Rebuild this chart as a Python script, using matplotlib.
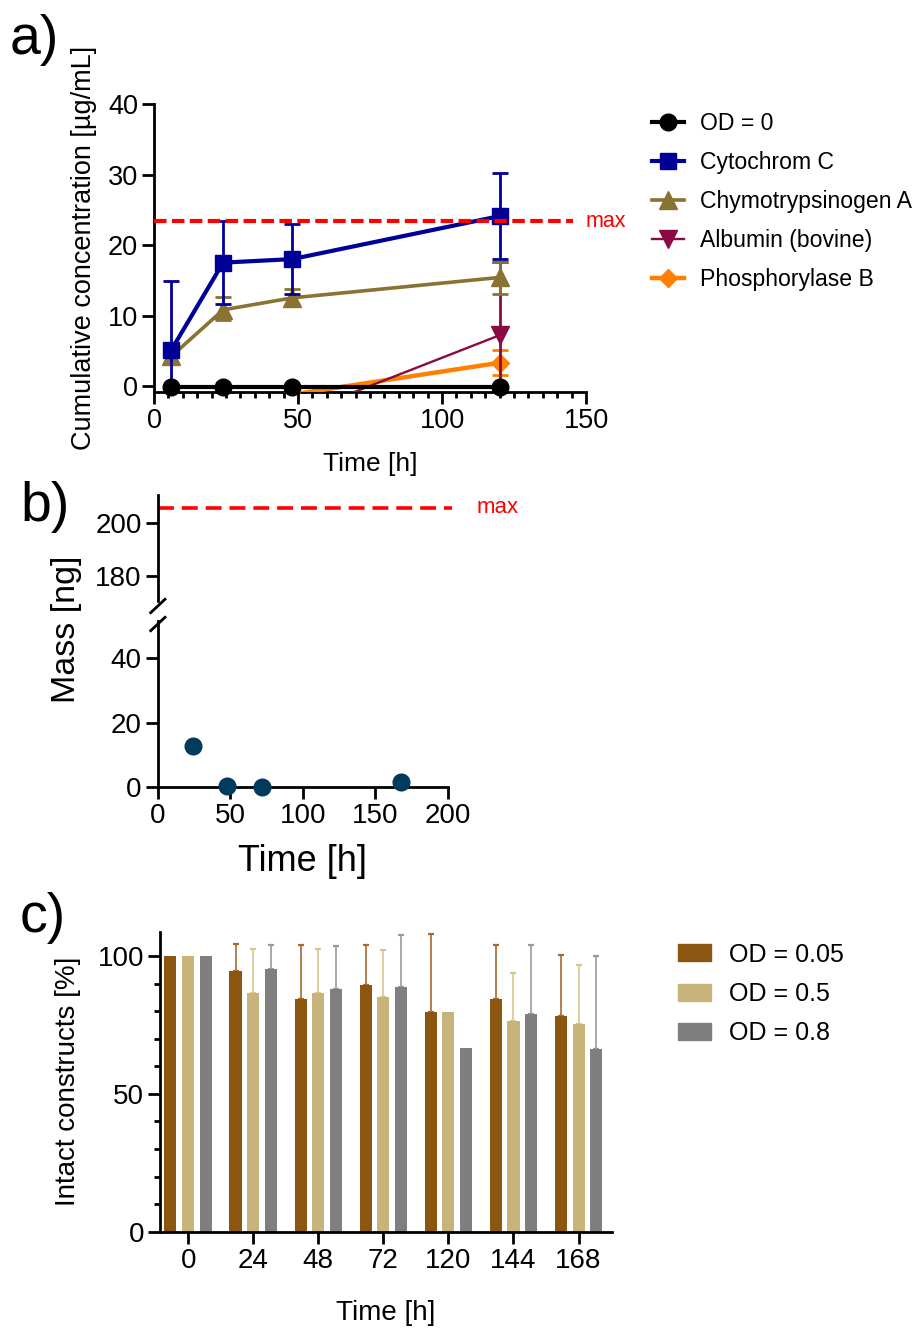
import numpy as np
import matplotlib
matplotlib.use("Agg")
import matplotlib.pyplot as plt
from matplotlib.ticker import MultipleLocator
from matplotlib.patches import Patch

plt.rcParams['font.family'] = ['Liberation Sans', 'DejaVu Sans']

# ---- panel a data ----
time_a = [6, 24, 48, 120]
od0 = [-0.2, -0.2, -0.2, -0.2]
cyto = [5.1, 17.5, 18.0, 24.1]
cyto_lo = [5.0, 5.9, 5.0, 6.1]
cyto_hi = [9.8, 5.9, 5.0, 6.1]
chymo = [4.2, 10.8, 12.5, 15.4]
chymo_lo = [0.0, 1.4, 1.2, 2.4]
chymo_hi = [0.0, 1.8, 1.3, 2.2]
albumin = [-4.6, -4.5, -4.3, 7.2]
albumin_err = [0.0, 0.0, 0.0, 10.4]
phospho = [-1.6, -1.5, -1.2, 3.3]
phospho_err = [0.0, 0.0, 0.0, 1.8]
max_a = 23.4

# ---- panel b data ----
time_b = [24, 48, 72, 168]
mass_b = [12.7, 0.3, 0.0, 1.4]
max_b = 205.7

# ---- panel c data ----
time_c = ['0', '24', '48', '72', '120', '144', '168']
od005 = [100, 94.6, 84.5, 89.5, 79.5, 84.5, 78.3]
od005_err = [0, 9.9, 19.4, 14.4, 28.3, 19.4, 22.1]
od05 = [100, 86.4, 86.4, 85.2, 79.5, 76.5, 75.4]
od05_err = [0, 16.1, 16.1, 17.0, 0, 17.5, 21.3]
od08 = [100, 95.4, 88.1, 88.6, 66.6, 78.9, 66.4]
od08_err = [0, 8.5, 15.5, 19.0, 0, 25.0, 33.5]

W, H = 921, 1330
fig = plt.figure(figsize=(W / 100, H / 100), dpi=100)


def box(l, t, r, b):
    return [l / W, 1 - b / H, (r - l) / W, (b - t) / H]


def style(ax, lw=2.0):
    for s in ['top', 'right']:
        ax.spines[s].set_visible(False)
    for s in ['left', 'bottom']:
        ax.spines[s].set_linewidth(lw)
    ax.tick_params(which='major', length=8.5, width=lw, labelsize=19.5, pad=3)
    ax.tick_params(which='minor', length=4.5, width=lw)


# ================= a) =================
ax = fig.add_axes(box(154, 104, 586, 392))
style(ax)
ax.set_xlim(0, 150)
ax.set_ylim(-0.85, 40)
ax.xaxis.set_major_locator(MultipleLocator(50))
ax.xaxis.set_minor_locator(MultipleLocator(5))
ax.yaxis.set_major_locator(MultipleLocator(10))

series = [
    ('OD = 0', od0, None, None, 'black', 'o', 12, 3.0, 10, False),
    ('Cytochrom C', cyto, cyto_lo, cyto_hi, '#000099', 's', 12, 3.0, 9, False),
    ('Chymotrypsinogen A', chymo, chymo_lo, chymo_hi, '#8a7232', '^', 12.5, 2.6, 8, False),
    ('Albumin (bovine)', albumin, albumin_err, albumin_err, '#8b0a42', 'v', 12.5, 1.7, 7, True),
    ('Phosphorylase B', phospho, phospho_err, phospho_err, '#ff8000', 'D', 9.5, 3.2, 6, True),
]
handles = []
for name, vals, lo, hi, col, mk, ms, lw, z, clip in series:
    ln, = ax.plot(time_a, vals, color=col, marker=mk, ms=ms, lw=lw, zorder=z,
                  clip_on=clip, label=name)
    handles.append(ln)
    if lo is not None:
        lo = np.array(lo)
        hi = np.array(hi)
        m = (lo + hi) > 0
        eb = ax.errorbar(np.array(time_a)[m], np.array(vals)[m], yerr=[lo[m], hi[m]],
                         fmt='none', ecolor=col, elinewidth=2.0, capsize=5.5,
                         capthick=2.0, zorder=z - 0.5)
        for art in eb.lines[1] + eb.lines[2]:
            art.set_clip_on(clip)

ax.plot([0, 145.5], [max_a, max_a], color='red', lw=3.0, dashes=(3.0, 1.3),
        zorder=12, clip_on=False)
ax.text(150, max_a, 'max', color='red', fontsize=15.5, ha='left', va='center')
ax.set_xlabel('Time [h]', fontsize=19)
ax.set_ylabel('Cumulative concentration [µg/mL]', fontsize=19.5)
ax.xaxis.label.set_va('center')
ax.yaxis.label.set_va('center')
ax.xaxis.set_label_coords(0.5, -0.25)
ax.yaxis.set_label_coords(-0.162, 0.5)

fig.legend(handles=handles, loc='center left', bbox_to_anchor=(652 / W, 1 - 201.5 / H),
           frameon=False, fontsize=16.6, handlelength=1.4, handletextpad=0.68,
           labelspacing=0.7, borderpad=0, borderaxespad=0)

# ================= b) =================
axu = fig.add_axes(box(157.7, 495, 447.7, 601))
axl = fig.add_axes(box(157.7, 621, 447.7, 786.7))
for a in (axu, axl):
    style(a)
    a.set_xlim(0, 200)
    a.tick_params(which='major', labelsize=20, length=8.5)
axu.spines['bottom'].set_visible(False)
axu.tick_params(axis='x', bottom=False, labelbottom=False)
axu.set_ylim(170.5, 210.5)
axu.set_yticks([180, 200])
axl.set_ylim(0, 51.7)
axl.set_yticks([0, 20, 40])
axl.xaxis.set_major_locator(MultipleLocator(50))

axl.plot(time_b, mass_b, 'o', color='#003a5c', ms=12, clip_on=False, zorder=5)
axu.plot([0, 203], [max_b, max_b], color='red', lw=2.6, dashes=(4.4, 2.2),
         clip_on=False)
axu.text(220, max_b, 'max', color='red', fontsize=16, ha='left', va='center')

# break marks on the y axis
for yb in (606, 624):
    fig.add_artist(plt.Line2D([150.7 / W, 165 / W], [1 - (yb + 6.7) / H, 1 - (yb - 6.7) / H],
                              color='black', lw=2.0))

axl.set_xlabel('Time [h]', fontsize=26)
axl.set_ylabel('Mass [ng]', fontsize=24.5)
axl.xaxis.label.set_va('center')
axl.yaxis.label.set_va('center')
axl.xaxis.set_label_coords(0.5, -0.452)
axl.yaxis.set_label_coords(-0.313, 0.952)

# ================= c) =================
axc = fig.add_axes(box(160, 931.7, 611.7, 1231.7))
style(axc)
axc.set_xlim(-0.435, 6.51)
axc.set_ylim(0, 108.8)
axc.yaxis.set_major_locator(MultipleLocator(50))
axc.yaxis.set_minor_locator(MultipleLocator(10))
axc.tick_params(axis='x', which='minor', bottom=False)
axc.tick_params(which='major', labelsize=20)
idx = np.arange(len(time_c))
bw = 0.185
off = 0.274
groups = [
    ('OD = 0.05', od005, od005_err, '#8b5610', '#a8692e'),
    ('OD = 0.5', od05, od05_err, '#c8b47a', '#d9c68e'),
    ('OD = 0.8', od08, od08_err, '#7f7f7f', '#9a9a9a'),
]
patches = []
for k, (name, vals, err, col, ecol) in enumerate(groups):
    pos = idx + (k - 1) * off
    axc.bar(pos, vals, width=bw, color=col, zorder=2)
    err = np.array(err)
    m = err > 0
    axc.errorbar(pos[m], np.array(vals)[m], yerr=[np.zeros(m.sum()), err[m]],
                 fmt='none', ecolor=ecol, elinewidth=1.2, capsize=2.5,
                 capthick=1.6, zorder=1)
    patches.append(Patch(color=col, label=name))
axc.set_xticks(idx)
axc.set_xticklabels(time_c)
axc.set_xlabel('Time [h]', fontsize=20)
axc.set_ylabel('Intact constructs [%]', fontsize=20)
axc.xaxis.label.set_va('center')
axc.yaxis.label.set_va('center')
axc.xaxis.set_label_coords(0.5, -0.271)
axc.yaxis.set_label_coords(-0.204, 0.5)

fig.legend(handles=patches, loc='center left', bbox_to_anchor=(678 / W, 1 - 994 / H),
           frameon=False, fontsize=18, handlelength=1.31, handleheight=0.66,
           handletextpad=0.74, labelspacing=0.62, borderpad=0, borderaxespad=0)

# panel letters
fig.text(34 / W, 1 - 40 / H, 'a)', fontsize=40, ha='center', va='center')
fig.text(45 / W, 1 - 507 / H, 'b)', fontsize=40, ha='center', va='center')
fig.text(43 / W, 1 - 918 / H, 'c)', fontsize=40, ha='center', va='center')

fig.savefig('out.png', dpi=100)
